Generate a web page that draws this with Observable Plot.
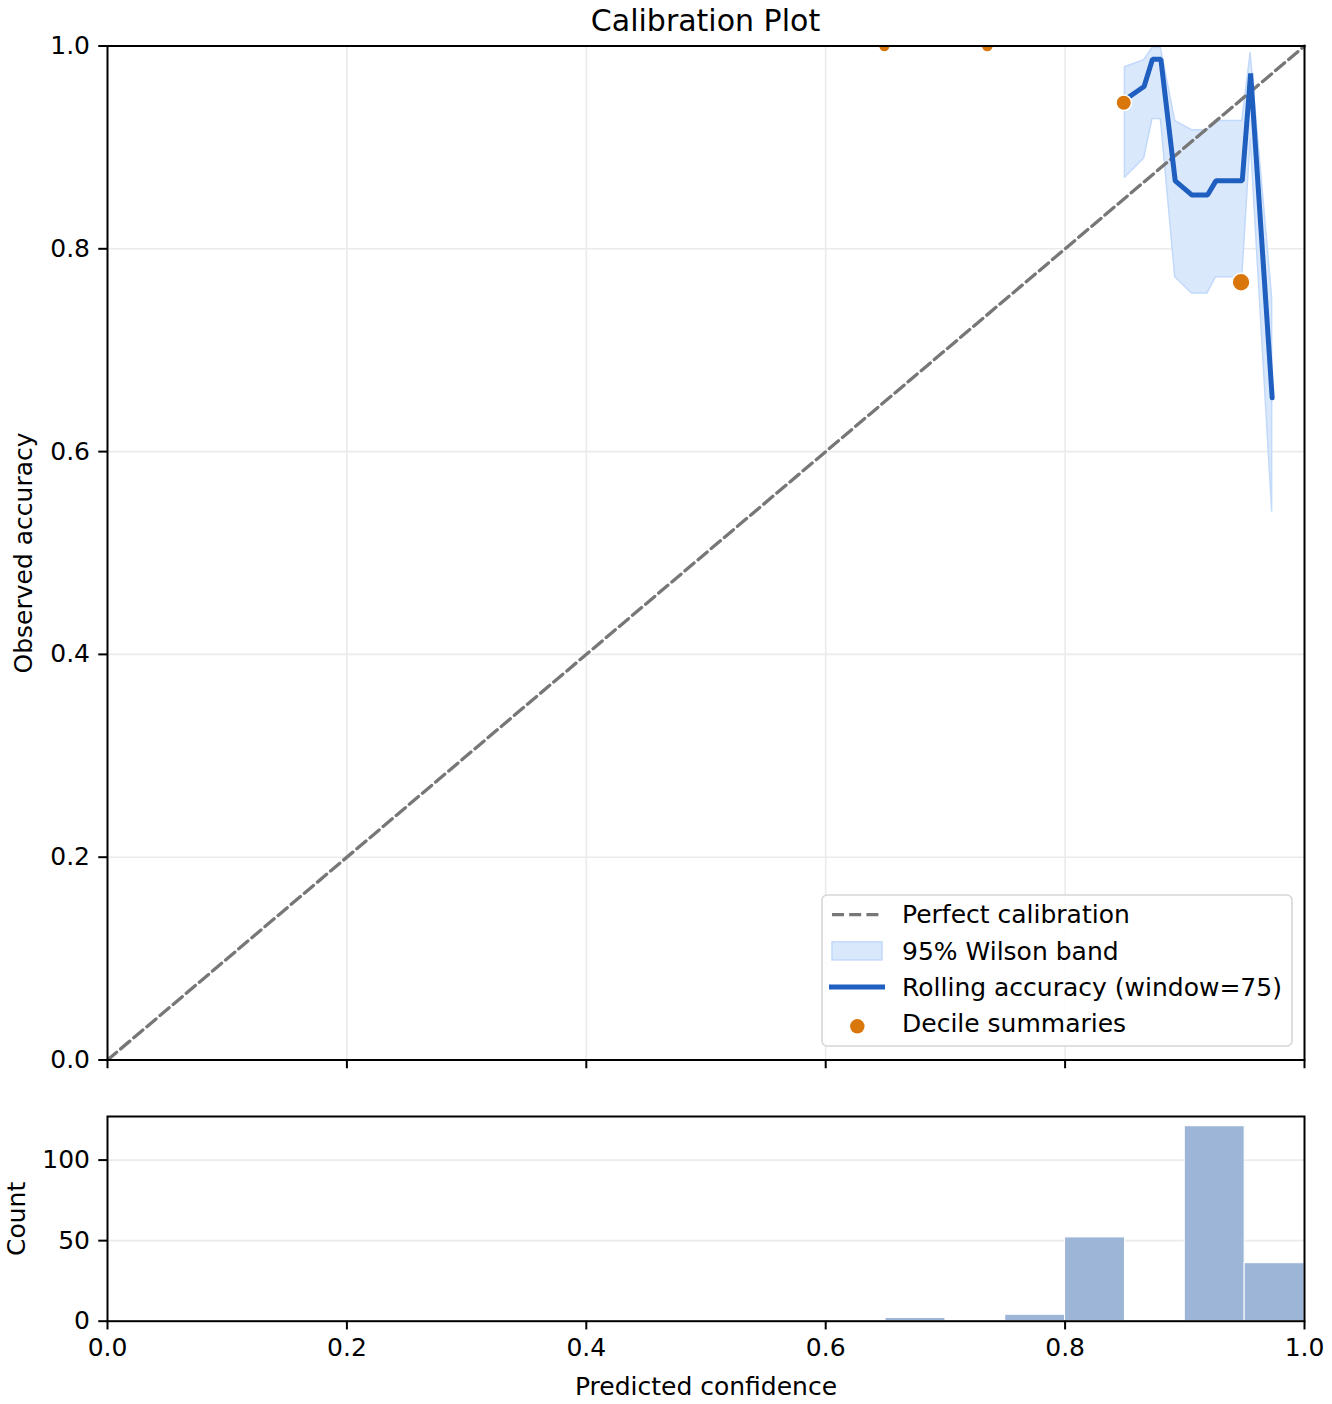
<!DOCTYPE html>
<html>
<head>
<meta charset="utf-8">
<script src="https://cdn.jsdelivr.net/npm/d3@7"></script>
<script src="https://cdn.jsdelivr.net/npm/@observablehq/plot@0.6"></script>
<style>
  html, body { margin: 0; padding: 0; background: white; }
  body { font-family: "DejaVu Sans", sans-serif; color: black; }
  #wrap { position: relative; width: 1332px; height: 1404px; overflow: hidden; }
  #title { position: absolute; left: 0; width: 1411px; top: 5.6px; text-align: center; font-size: 30px; line-height: 30px; white-space: nowrap; }
  #main { position: absolute; left: 0; top: 0; }
  #hist { position: absolute; left: 0; top: 1090px; }
  #legend { position: absolute; left: 821px; top: 894px; }
</style>
</head>
<body>
<div id="wrap">
  <div id="main"></div>
  <div id="hist"></div>
  <div id="title">Calibration Plot</div>
  <div id="legend"></div>
</div>
<script>
// ---- data ----
const axisTicks = [0, 0.2, 0.4, 0.6, 0.8, 1.0];
const countTicks = [0, 50, 100];

// rolling accuracy (window = 75)
const rollConf = [0.850, 0.866, 0.873, 0.880, 0.892, 0.906, 0.919, 0.926, 0.948, 0.955, 0.973];
const rollAcc  = [0.947, 0.960, 0.987, 0.987, 0.867, 0.853, 0.853, 0.867, 0.867, 0.973, 0.653];
const rollLow  = [0.870, 0.889, 0.928, 0.928, 0.772, 0.756, 0.756, 0.772, 0.772, 0.908, 0.541];
const rollHigh = [0.979, 0.986, 0.998, 0.998, 0.926, 0.917, 0.917, 0.926, 0.926, 0.993, 0.751];

// decile summaries
const decConf = [0.649, 0.735, 0.849, 0.947];
const decAcc  = [1.000, 1.000, 0.944, 0.767];
const decN    = [2, 4, 52, 121];

// confidence histogram
const binLo  = [0.65, 0.75, 0.80, 0.90, 0.95];
const binHi  = [0.70, 0.80, 0.85, 0.95, 1.00];
const counts = [2, 4, 52, 121, 36];

const diag = [[0, 0], [1, 1]];

// ---- styles ----
const BLUE = "#1f5fbf";
const ORANGE = "#da770c";
const BAND_FILL = "#dae8fc";
const BAND_EDGE = "#c2d9fa";
const GRID = "#ebebeb";
const FONT = "DejaVu Sans, sans-serif";
const FS = 25;
const TICK = 8.75;
const PAD = 8.75;
const LW = 2;

const roll = rollConf.map((c, i) => ({c, acc: rollAcc[i], lo: rollLow[i], hi: rollHigh[i]}));
const dec = decConf.map((c, i) => ({c, acc: decAcc[i], n: decN[i]}));
const bins = binLo.map((lo, i) => ({lo, hi: binHi[i], n: counts[i]}));

const main = Plot.plot({
  width: 1332,
  height: 1090,
  marginLeft: 107,
  marginRight: 28,
  marginTop: 45.5,
  marginBottom: 30.5,
  style: {fontFamily: FONT, fontSize: FS + "px", color: "black", background: "white", overflow: "visible"},
  x: {domain: [0, 1]},
  y: {domain: [0, 1]},
  r: {type: "sqrt", domain: [0, 160], range: [5.5, 9.5]},
  marks: [
    Plot.gridX(axisTicks, {stroke: GRID, strokeOpacity: 1, strokeWidth: 1.6}),
    Plot.gridY(axisTicks, {stroke: GRID, strokeOpacity: 1, strokeWidth: 1.6}),
    Plot.areaY(roll, {x: "c", y1: "lo", y2: "hi", fill: BAND_FILL, stroke: BAND_EDGE, strokeWidth: 1.5, clip: true}),
    Plot.line(diag, {x: d => d[0], y: d => d[1], stroke: "#777777", strokeWidth: 3.3, strokeDasharray: "12,5.2"}),
    Plot.line(roll, {x: "c", y: "acc", stroke: BLUE, strokeWidth: 5, strokeLinejoin: "miter", clip: true}),
    Plot.dot(dec, {x: "c", y: "acc", r: "n", fill: ORANGE, stroke: "white", strokeWidth: 1.6, clip: true}),
    Plot.frame({stroke: "black", strokeWidth: LW}),
    Plot.axisX(axisTicks, {tickSize: TICK, strokeWidth: LW, tickFormat: () => "", label: null}),
    Plot.axisY(axisTicks, {tickSize: TICK, tickPadding: PAD, strokeWidth: LW, fontSize: FS, tickFormat: d3.format(".1f"),
      label: "Observed accuracy", labelAnchor: "center", labelArrow: "none", labelOffset: 93})
  ]
});
document.getElementById("main").appendChild(main);

const hist = Plot.plot({
  width: 1332,
  height: 314,
  marginLeft: 107,
  marginRight: 28,
  marginTop: 26,
  marginBottom: 83.3,
  style: {fontFamily: FONT, fontSize: FS + "px", color: "black", background: "white", overflow: "visible"},
  x: {domain: [0, 1]},
  y: {domain: [0, 127.05]},
  marks: [
    Plot.gridY(countTicks.slice(1), {stroke: GRID, strokeOpacity: 1, strokeWidth: 1.6}),
    Plot.rectY(bins, {x1: "lo", x2: "hi", y1: 0, y2: "n", fill: "#9db5d6", stroke: "white", strokeWidth: 1}),
    Plot.frame({stroke: "black", strokeWidth: LW}),
    Plot.axisX(axisTicks, {tickSize: TICK, tickPadding: PAD, strokeWidth: LW, fontSize: FS, tickFormat: d3.format(".1f"),
      label: "Predicted confidence", labelAnchor: "center", labelArrow: "none", labelOffset: 74}),
    Plot.axisY(countTicks, {tickSize: TICK, tickPadding: PAD, strokeWidth: LW, fontSize: FS, tickFormat: d3.format("d"),
      label: "Count", labelAnchor: "center", labelArrow: "none", labelOffset: 100})
  ]
});
document.getElementById("hist").appendChild(hist);

// ---- legend ----
const legendItems = [
  {label: "Perfect calibration", kind: "dash"},
  {label: "95% Wilson band", kind: "band"},
  {label: "Rolling accuracy (window=75)", kind: "line"},
  {label: "Decile summaries", kind: "dot"}
];
const NS = "http://www.w3.org/2000/svg";
const lsvg = document.createElementNS(NS, "svg");
lsvg.setAttribute("width", 474);
lsvg.setAttribute("height", 156);
let inner = `<rect x="1" y="1" width="470" height="151" rx="5" ry="5" fill="white" fill-opacity="0.85" stroke="#d6d6d6" stroke-width="1.6"/>`;
legendItems.forEach((it, i) => {
  const cy = 20.7 + i * 36.2;
  if (it.kind === "dash") inner += `<line x1="11" x2="61.3" y1="${cy}" y2="${cy}" stroke="#777" stroke-width="3.3" stroke-dasharray="12,5.2"/>`;
  if (it.kind === "band") inner += `<rect x="11" y="${cy - 9}" width="50" height="18" fill="${BAND_FILL}" stroke="${BAND_EDGE}" stroke-width="1.5"/>`;
  if (it.kind === "line") inner += `<line x1="8" x2="64" y1="${cy}" y2="${cy}" stroke="${BLUE}" stroke-width="5"/>`;
  if (it.kind === "dot") inner += `<circle cx="36.3" cy="${cy + 3}" r="7.2" fill="${ORANGE}"/>`;
  inner += `<text x="81" y="${29.3 + i * 36.2}" font-family="${FONT}" font-size="${FS}" fill="black">${it.label}</text>`;
});
lsvg.innerHTML = inner;
document.getElementById("legend").appendChild(lsvg);
</script>
</body>
</html>
